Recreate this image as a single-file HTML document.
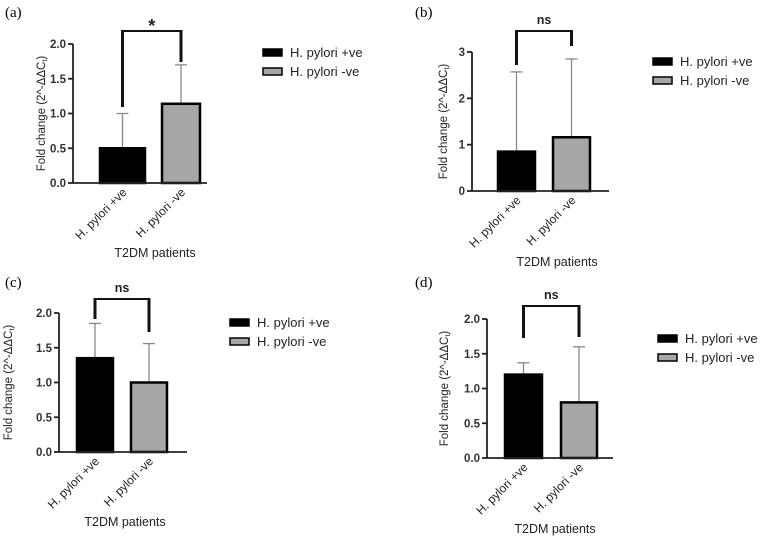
<!DOCTYPE html>
<html><head><meta charset="utf-8"><style>
body{margin:0;background:#fff;}
svg{display:block;font-family:"Liberation Sans",Arial,sans-serif;}
</style></head><body>
<svg id="c" width="781" height="538" xmlns="http://www.w3.org/2000/svg"></svg>
<script>
const categories = ["H. pylori +ve", "H. pylori -ve"];
const valuesA = [0.5, 1.14];
const errorsA = [1.0, 1.7];
const ticksA = ["0.0","0.5","1.0","1.5","2.0"];
const sigA = "*";
const valuesB = [0.85, 1.16];
const errorsB = [2.57, 2.85];
const ticksB = ["0","1","2","3"];
const sigB = "ns";
const valuesC = [1.35, 1.0];
const errorsC = [1.85, 1.56];
const ticksC = ["0.0","0.5","1.0","1.5","2.0"];
const sigC = "ns";
const valuesD = [1.2, 0.8];
const errorsD = [1.37, 1.6];
const ticksD = ["0.0","0.5","1.0","1.5","2.0"];
const sigD = "ns";

const NS = "http://www.w3.org/2000/svg";
const svg = document.getElementById('c');
function mk(tag, attrs, parent, text){
  const e = document.createElementNS(NS, tag);
  for (const k in attrs) e.setAttribute(k, attrs[k]);
  if (text !== undefined) e.textContent = text;
  (parent||svg).appendChild(e);
  return e;
}
const panels = [
  {id:"a", vals:valuesA, errs:errorsA, ticks:ticksA, sig:sigA, ax:73, y0:183, yTop:44, xEnd:207, bars:[[100,145],[162,200]], brTop:31, brL:107, brR:62, lx:5, ly:17, legX:263, legY:52, titleX:155, titleY:257, ytX:45},
  {id:"b", vals:valuesB, errs:errorsB, ticks:ticksB, sig:sigB, ax:472, y0:191, yTop:52, xEnd:609, bars:[[498,535],[553,590]], brTop:31, brL:65, brR:46, lx:415, ly:17, legX:653, legY:61, titleX:557, titleY:266, ytX:447},
  {id:"c", vals:valuesC, errs:errorsC, ticks:ticksC, sig:sigC, ax:59, y0:452, yTop:313, xEnd:187, bars:[[77,113],[131,167]], brTop:299, brL:319, brR:332, lx:5, ly:287, legX:230, legY:322, titleX:125, titleY:526, ytX:12},
  {id:"d", vals:valuesD, errs:errorsD, ticks:ticksD, sig:sigD, ax:487, y0:458, yTop:319, xEnd:613, bars:[[505,542],[561,597]], brTop:306, brL:338, brR:337, lx:415, ly:287, legX:658, legY:338, titleX:555, titleY:533, ytX:448}
];
panels.forEach(p=>{
  const g = mk('g', {});
  
  
  const maxV = parseFloat(p.ticks[p.ticks.length-1]);
  const y = v => p.y0 - (v/maxV)*(p.y0 - p.yTop);
  const lab = mk('text', {x:p.lx, y:p.ly, 'font-family':'Liberation Serif,serif', 'font-size':15}, g, '(' + p.id + ')');
  
  
  p.vals.forEach((v,i)=>{
    const [x1,x2] = p.bars[i];
    const cx = (x1+x2)/2;
    const eb = mk('g', {stroke:'#888', 'stroke-width':1.3}, g);
    
    
    mk('line', {x1:cx, x2:cx, y1:y(v), y2:y(p.errs[i])}, eb);
    mk('line', {x1:cx-6, x2:cx+6, y1:y(p.errs[i]), y2:y(p.errs[i])}, eb);
    const r = mk('rect', {x:x1, y:y(v), width:x2-x1, height:p.y0-y(v), fill:i==0?'#000':'#a6a6a6', stroke:'#000', 'stroke-width':2.5}, g);
    
    
    const tx = cx+5, ty = p.y0+10;
    const t = mk('text', {x:tx, y:ty, 'font-size':12, 'text-anchor':'end', fill:'#222', transform:`rotate(-45 ${tx} ${ty})`}, g, categories[i]);
    
    
  });
  const ax = mk('g', {stroke:'#222', 'stroke-width':1.8, fill:'none'}, g);
  
  
  mk('line', {x1:p.ax, x2:p.ax, y1:p.yTop, y2:p.y0}, ax);
  mk('line', {x1:p.ax, x2:p.xEnd, y1:p.y0, y2:p.y0}, ax);
  p.ticks.forEach(tk=>{
    const yy = y(parseFloat(tk));
    mk('line', {x1:p.ax-5, x2:p.ax, y1:yy, y2:yy}, ax);
    const t = mk('text', {x:p.ax-7, y:yy+4, 'font-size':11.5, 'font-weight':'bold', 'text-anchor':'end', fill:'#333'}, g, tk);
    
    
  });
  const ym = (p.yTop+p.y0)/2;
  const yt = mk('text', {x:p.ytX, y:ym, 'font-size':11.5, 'text-anchor':'middle', fill:'#222', transform:`rotate(-90 ${p.ytX} ${ym})`}, g);
  
  
  yt.textContent = 'Fold change (2^-ΔΔC';
  mk('tspan', {'font-size':7.5, dy:2}, yt, 't');
  mk('tspan', {dy:-2}, yt, ')');
  const xt = mk('text', {x:p.titleX, y:p.titleY, 'font-size':12.5, 'text-anchor':'middle', fill:'#222'}, g, 'T2DM patients');
  
  
  const c1 = (p.bars[0][0]+p.bars[0][1])/2, c2 = (p.bars[1][0]+p.bars[1][1])/2;
  const br = mk('g', {stroke:'#111', fill:'none'}, g);
  
  
  mk('line', {x1:c1, x2:c2, y1:p.brTop, y2:p.brTop, 'stroke-width':2}, br);
  mk('line', {x1:c1, x2:c1, y1:p.brTop-1, y2:p.brL, 'stroke-width':3}, br);
  mk('line', {x1:c2, x2:c2, y1:p.brTop-1, y2:p.brR, 'stroke-width':3}, br);
  const st = mk('text', {x:(c1+c2)/2, y:p.brTop-(p.sig=='*'?-1:7), 'font-size':p.sig=='*'?18:12.5, 'text-anchor':'middle', fill:'#222', 'font-weight':'bold'}, g, p.sig);
  
  
  categories.forEach((c,i)=>{
    const ly = p.legY + i*19;
    const le = mk('g', {}, g);
    
    
    mk('rect', {x:p.legX, y:ly-3, width:19, height:7, fill:i==0?'#000':'#a6a6a6', stroke:'#000', 'stroke-width':1.5}, le);
    mk('text', {x:p.legX+27, y:ly+5, 'font-size':13, fill:'#222'}, le, c);
  });
});
</script>
</body></html>
